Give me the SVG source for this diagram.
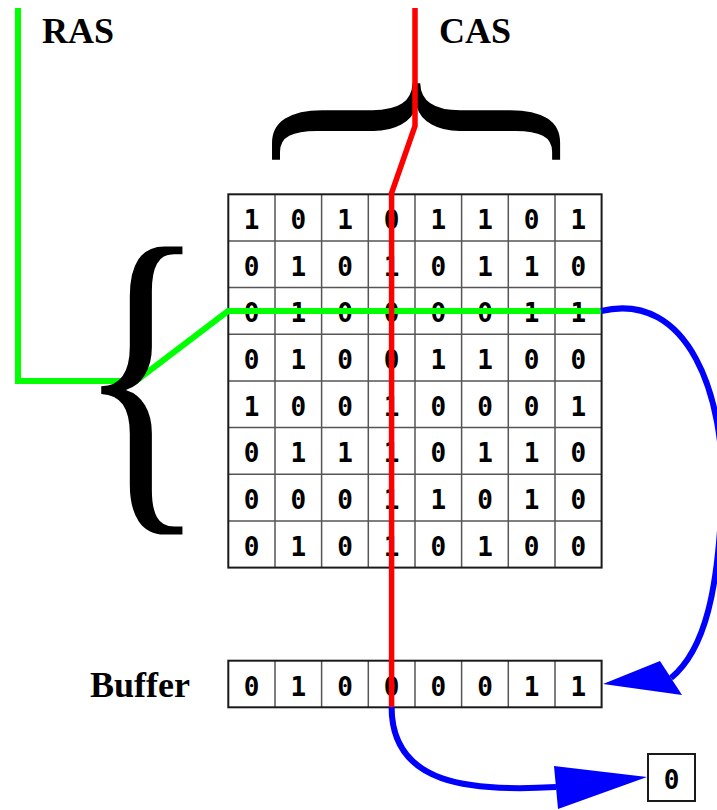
<svg xmlns="http://www.w3.org/2000/svg" width="717" height="810" viewBox="0 0 717 810">
<style>
.bg{fill:#fff}
.frame{fill:none;stroke:#1a1a1a;stroke-width:2}
.inner{stroke:#555;stroke-width:1.5;fill:none}
.d{font-family:"DejaVu Sans Mono",monospace;font-weight:bold;font-size:26px;text-anchor:middle;fill:#000}
.lbl{font-family:"Liberation Serif",serif;font-weight:bold;font-size:36px;fill:#000}
.brace{font-family:"Liberation Serif",serif;font-size:336px;fill:#000}
.g{fill:none;stroke:#00ff00;stroke-width:6;stroke-linejoin:miter}
.r{fill:none;stroke:#ff0000;stroke-width:5.5}
.b{fill:none;stroke:#0000ff;stroke-width:6}
.ah{fill:#0000ff;stroke:none}
</style>
<rect class="bg" width="717" height="810"/>
<g id="labels">
<text class="lbl" x="42" y="43">RAS</text>
<text class="lbl" x="439" y="43">CAS</text>
<text class="lbl" x="90" y="697">Buffer</text>
</g>
<g id="memory-array">
<rect class="bg" x="228.3" y="194.3" width="373.3" height="373.3"/>
<path class="inner" d="M275,194.3V567.6M321.6,194.3V567.6M368.3,194.3V567.6M415,194.3V567.6M461.6,194.3V567.6M508.3,194.3V567.6M555,194.3V567.6M228.3,241H601.6M228.3,287.6H601.6M228.3,334.3H601.6M228.3,381H601.6M228.3,427.6H601.6M228.3,474.3H601.6M228.3,521H601.6"/>
<rect class="frame" x="228.3" y="194.3" width="373.3" height="373.3"/>
<g class="d">
<text y="229"><tspan x="251.6">1</tspan><tspan x="298.3">0</tspan><tspan x="345">1</tspan><tspan x="391.6">0</tspan><tspan x="438.3">1</tspan><tspan x="485">1</tspan><tspan x="531.6">0</tspan><tspan x="578.3">1</tspan></text>
<text y="275.7"><tspan x="251.6">0</tspan><tspan x="298.3">1</tspan><tspan x="345">0</tspan><tspan x="391.6">1</tspan><tspan x="438.3">0</tspan><tspan x="485">1</tspan><tspan x="531.6">1</tspan><tspan x="578.3">0</tspan></text>
<text y="322.3"><tspan x="251.6">0</tspan><tspan x="298.3">1</tspan><tspan x="345">0</tspan><tspan x="391.6">0</tspan><tspan x="438.3">0</tspan><tspan x="485">0</tspan><tspan x="531.6">1</tspan><tspan x="578.3">1</tspan></text>
<text y="369"><tspan x="251.6">0</tspan><tspan x="298.3">1</tspan><tspan x="345">0</tspan><tspan x="391.6">0</tspan><tspan x="438.3">1</tspan><tspan x="485">1</tspan><tspan x="531.6">0</tspan><tspan x="578.3">0</tspan></text>
<text y="415.7"><tspan x="251.6">1</tspan><tspan x="298.3">0</tspan><tspan x="345">0</tspan><tspan x="391.6">1</tspan><tspan x="438.3">0</tspan><tspan x="485">0</tspan><tspan x="531.6">0</tspan><tspan x="578.3">1</tspan></text>
<text y="462.3"><tspan x="251.6">0</tspan><tspan x="298.3">1</tspan><tspan x="345">1</tspan><tspan x="391.6">1</tspan><tspan x="438.3">0</tspan><tspan x="485">1</tspan><tspan x="531.6">1</tspan><tspan x="578.3">0</tspan></text>
<text y="509"><tspan x="251.6">0</tspan><tspan x="298.3">0</tspan><tspan x="345">0</tspan><tspan x="391.6">1</tspan><tspan x="438.3">1</tspan><tspan x="485">0</tspan><tspan x="531.6">1</tspan><tspan x="578.3">0</tspan></text>
<text y="555.7"><tspan x="251.6">0</tspan><tspan x="298.3">1</tspan><tspan x="345">0</tspan><tspan x="391.6">1</tspan><tspan x="438.3">0</tspan><tspan x="485">1</tspan><tspan x="531.6">0</tspan><tspan x="578.3">0</tspan></text>
</g>
</g>
<g id="buffer">
<rect class="bg" x="228.3" y="660.7" width="373.3" height="46.6"/>
<path class="inner" d="M275,660.7V707.3M321.6,660.7V707.3M368.3,660.7V707.3M415,660.7V707.3M461.6,660.7V707.3M508.3,660.7V707.3M555,660.7V707.3"/>
<rect class="frame" x="228.3" y="660.7" width="373.3" height="46.6"/>
<text class="d" y="695.5"><tspan x="251.6">0</tspan><tspan x="298.3">1</tspan><tspan x="345">0</tspan><tspan x="391.6">0</tspan><tspan x="438.3">0</tspan><tspan x="485">0</tspan><tspan x="531.6">1</tspan><tspan x="578.3">1</tspan></text>
</g>
<g id="output">
<rect class="bg" x="648" y="754" width="47" height="47"/>
<rect class="frame" x="648" y="754" width="47" height="47"/>
<text class="d" x="671.5" y="789">0</text>
</g>
<g id="connectors">
<polyline class="g" points="18,8 18,381 136,381 228,311 601,311"/>
<g id="row-brace" transform="translate(100,390) scale(0.81,1.036)"><text class="brace" x="-29" y="94.5">{</text></g>
<g id="column-brace" transform="translate(416.5,82) rotate(90) scale(0.765,1.036)"><text class="brace" x="-29" y="94.5">{</text></g>
<polyline class="r" points="415,8 415,126 391.6,193 391.6,707"/>
<path class="b" d="M601,311 C690,290 725,400 722,490 C719,590 705,650 671,678"/>
<polygon class="ah" points="603,684 660,661 682,695"/>
<path class="b" d="M391.6,707 C391.6,785 470,792 556,787"/>
<polygon class="ah" points="647,777 554,766 558,809"/>
</g>
</svg>
